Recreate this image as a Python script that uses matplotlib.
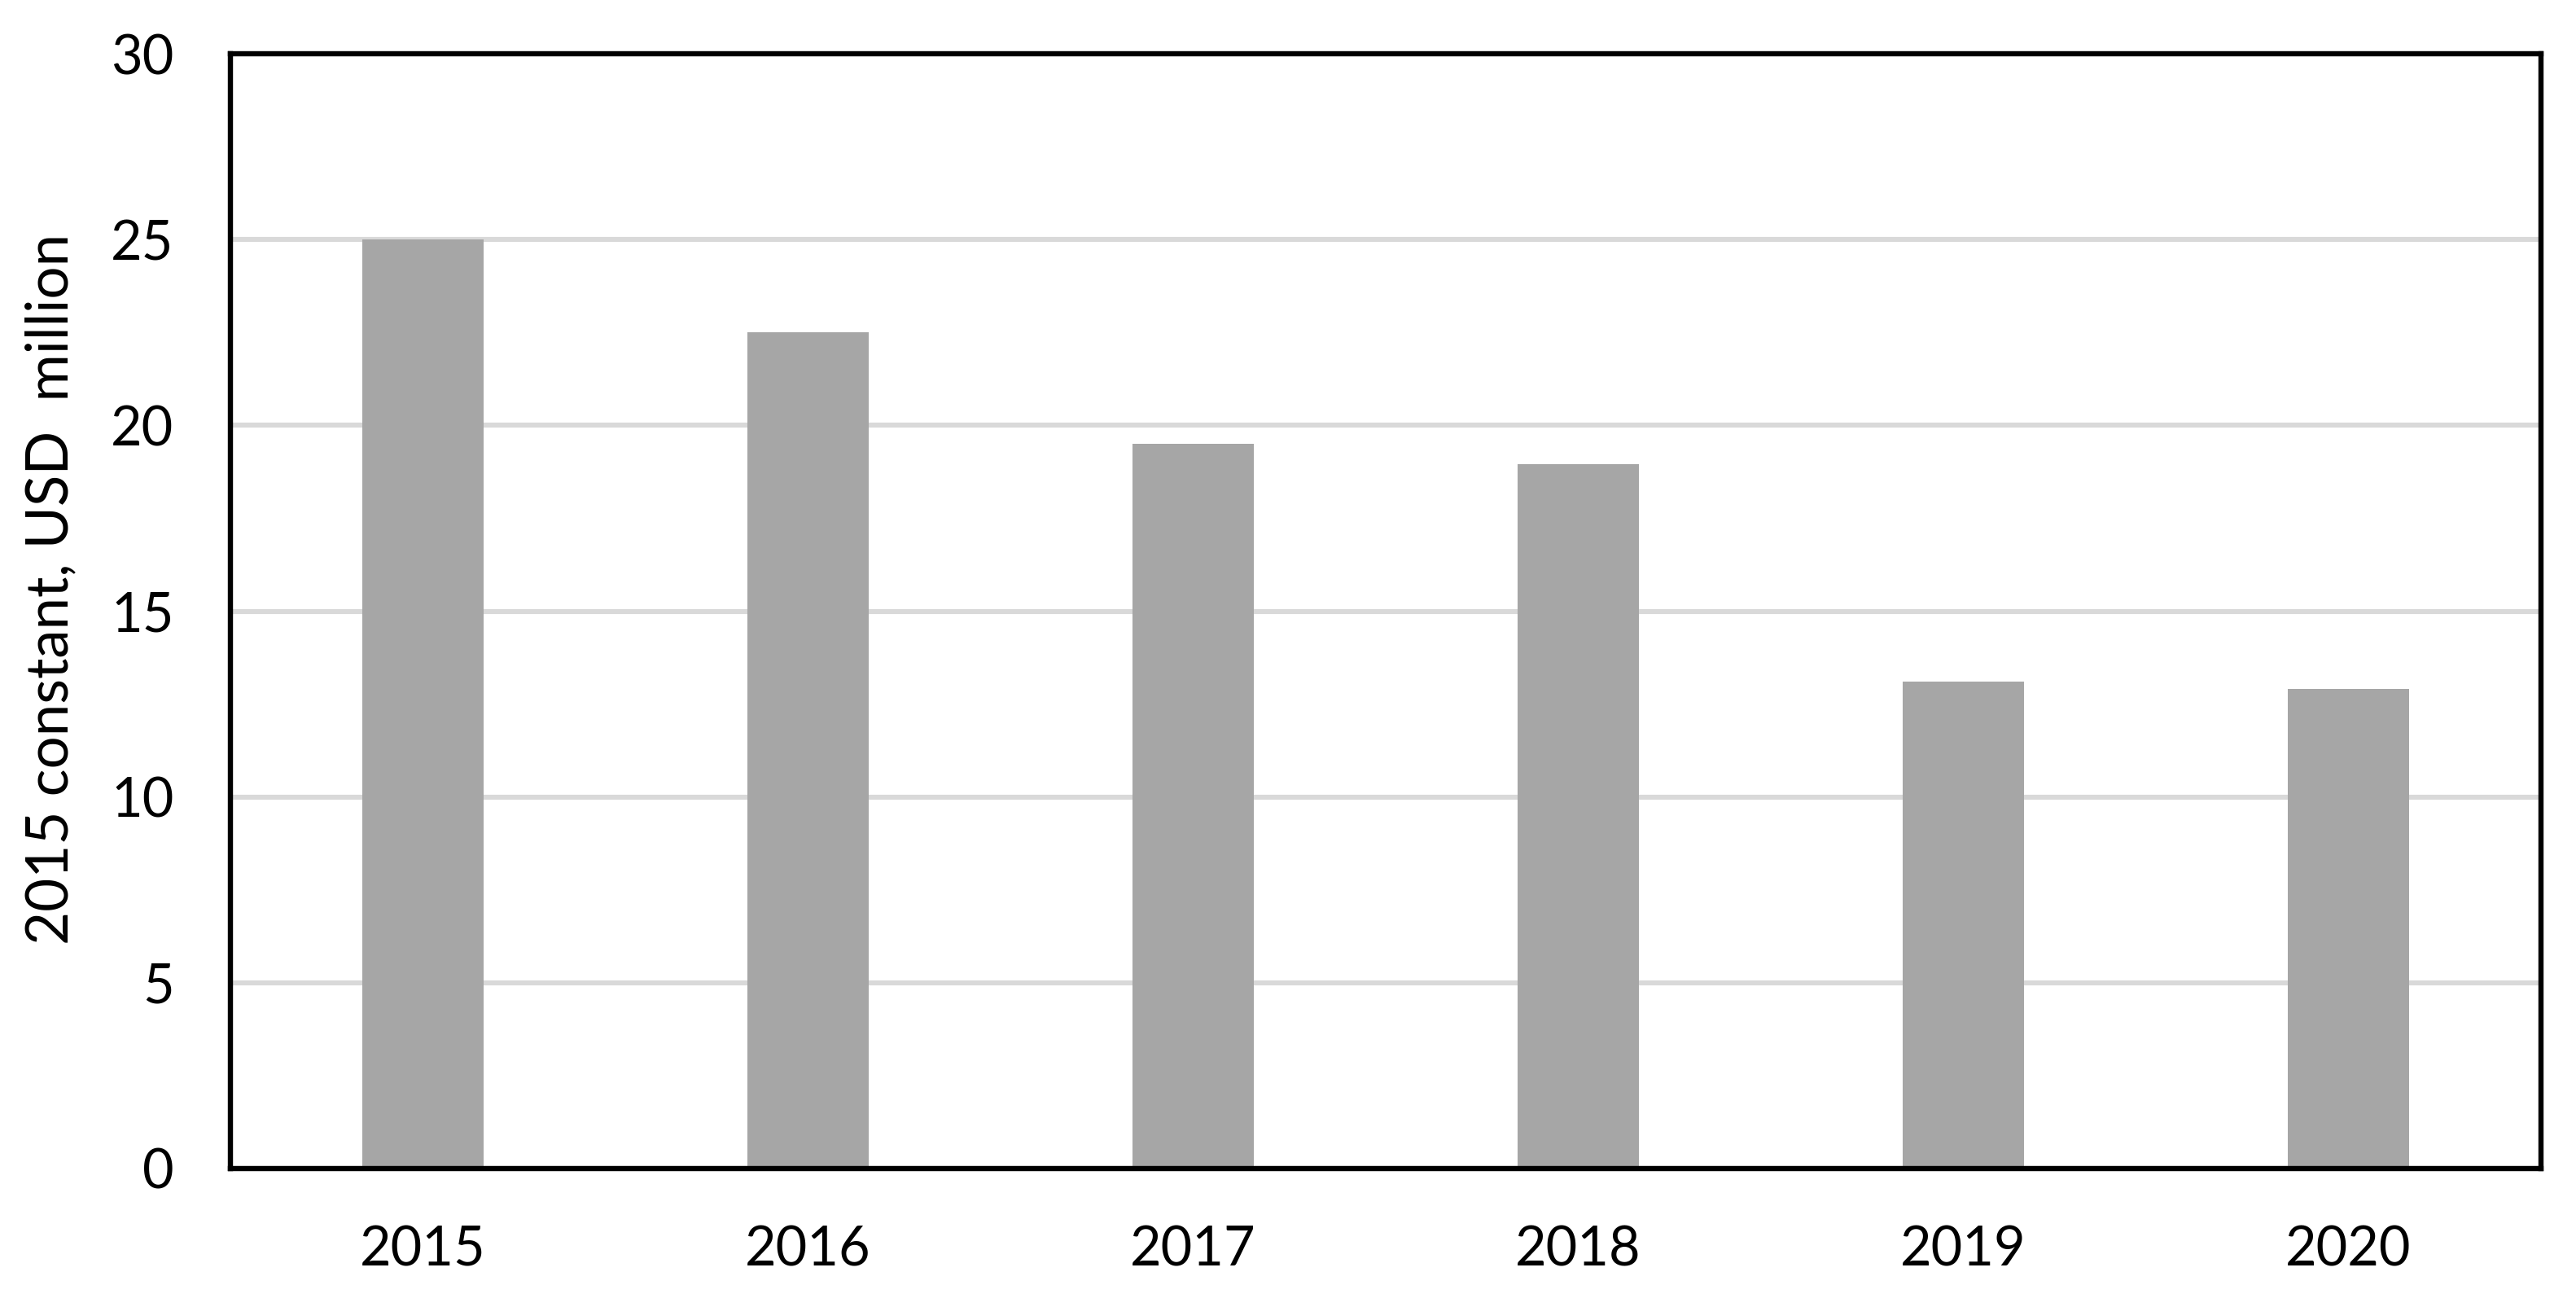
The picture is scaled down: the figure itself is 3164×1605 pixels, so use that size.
import numpy as np
import matplotlib
matplotlib.use('Agg')
import matplotlib.pyplot as plt

# Data
years = ['2015', '2016', '2017', '2018', '2019', '2020']
values = [25.0, 22.5, 19.5, 18.95, 13.1, 12.9]
y_ticks = [0, 5, 10, 15, 20, 25, 30]
y_label = '2015 constant, USD  million'

plt.rcParams['font.family'] = ['Lato', 'DejaVu Sans']

fig = plt.figure(figsize=(15.82, 8.025), dpi=200)
ax = fig.add_axes([283 / 3164, 1 - 1435 / 1605, (3121 - 283) / 3164, (1435 - 66) / 1605])

x = np.arange(len(years))
ax.bar(x, values, width=0.315, color='#a6a6a6', edgecolor='none', zorder=2)

ax.set_xlim(-0.5, len(years) - 0.5)
ax.set_ylim(0, 30)
ax.set_yticks(y_ticks)
ax.set_xticks(x)
ax.set_xticklabels(years)

ax.yaxis.grid(True, color='#d9d9d9', linewidth=2.2, zorder=0)
ax.set_axisbelow(True)

for s in ax.spines.values():
    s.set_linewidth(2.3)
    s.set_color('black')
    s.set_zorder(3)

ax.tick_params(axis='both', length=0, labelsize=24)
ax.tick_params(axis='x', pad=25)
ax.tick_params(axis='y', pad=25)

ax.set_ylabel(y_label, fontsize=25.5)
ax.yaxis.set_label_coords(-188 / (3121 - 283), 0.52)

fig.savefig('out.png', dpi=200)
